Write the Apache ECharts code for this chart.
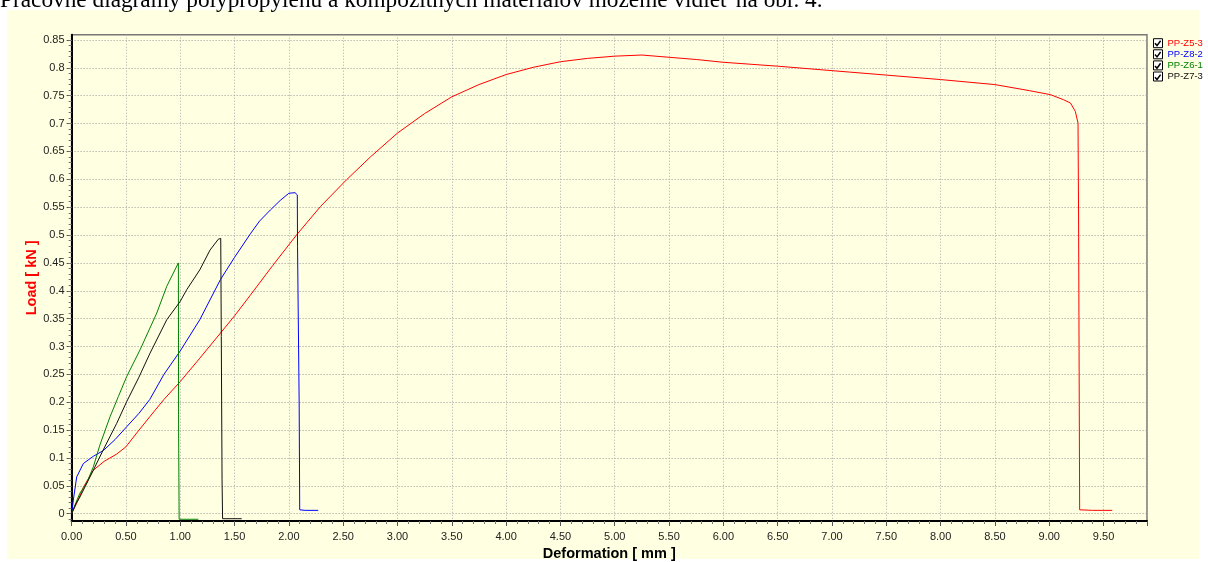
<!DOCTYPE html>
<html><head><meta charset="utf-8">
<script src="https://cdn.jsdelivr.net/npm/echarts@6/dist/echarts.min.js"></script>
<style>html,body{margin:0;padding:0;background:#fff}#c{width:1208px;height:562px}</style>
</head><body><div id="c"></div>
<script>
const seriesNames = ['PP-Z5-3', 'PP-Z8-2', 'PP-Z6-1', 'PP-Z7-3'];
const seriesColors = ['#ff0000', '#0000ff', '#008000', '#111111'];

// [deformation mm, load kN]
const z53 = [[0,0],[0.05,0.02],[0.11,0.048],[0.2,0.078],[0.3,0.094],[0.415,0.107],[0.5,0.12],[0.6,0.145],[0.72,0.174],[0.85,0.205],[1.0,0.237],[1.18,0.279],[1.37,0.324],[1.5,0.355],[1.645,0.392],[1.85,0.445],[2.07,0.5],[2.29,0.551],[2.53,0.599],[2.75,0.64],[3.0,0.683],[3.25,0.718],[3.5,0.748],[3.75,0.77],[4.0,0.788],[4.25,0.801],[4.5,0.811],[4.75,0.817],[5.0,0.821],[5.25,0.823],[5.5,0.819],[5.75,0.815],[6.0,0.81],[6.5,0.803],[7.0,0.795],[7.5,0.787],[8.0,0.779],[8.5,0.77],[8.82,0.759],[9.01,0.752],[9.13,0.743],[9.195,0.737],[9.24,0.722],[9.265,0.701],[9.27,0.536],[9.28,0.007],[9.4,0.006],[9.58,0.006]];
const z82 = [[0,0],[0.02,0.03],[0.047,0.066],[0.108,0.09],[0.2,0.103],[0.29,0.113],[0.4,0.133],[0.507,0.156],[0.62,0.18],[0.72,0.205],[0.85,0.25],[1.0,0.292],[1.18,0.348],[1.37,0.42],[1.5,0.46],[1.645,0.502],[1.73,0.525],[1.83,0.545],[1.92,0.562],[2.0,0.575],[2.057,0.576],[2.078,0.572],[2.08,0.479],[2.095,0.195],[2.1,0.007],[2.15,0.006],[2.27,0.006]];
const z61 = [[0,0],[0.04,0.02],[0.077,0.037],[0.139,0.055],[0.2,0.084],[0.26,0.123],[0.354,0.174],[0.43,0.21],[0.507,0.246],[0.63,0.294],[0.784,0.36],[0.876,0.408],[0.983,0.45],[0.985,0.15],[0.99,-0.01],[1.167,-0.01]];
const z73 = [[0,0],[0.04,0.018],[0.077,0.03],[0.2,0.078],[0.29,0.114],[0.415,0.162],[0.507,0.201],[0.62,0.245],[0.722,0.288],[0.876,0.348],[1.0,0.381],[1.06,0.402],[1.18,0.4375],[1.274,0.473],[1.351,0.4926],[1.373,0.494],[1.378,0.318],[1.385,0.062],[1.39,-0.009],[1.566,-0.009]];

const yTicks = [0,0.05,0.1,0.15,0.2,0.25,0.3,0.35,0.4,0.45,0.5,0.55,0.6,0.65,0.7,0.75,0.8,0.85];
const yMinorTicks = [];
for (let i = -1; i <= 85; i++) yMinorTicks.push(i / 100);
const xMin = 0, xMax = 9.9, xStep = 0.5;
const yMin = -0.0131, yMax = 0.8595;

const topText = 'Pracovné diagramy polypropylénu a kompozitných materiálov môžeme vidieť na obr. 4.';

const dataSets = [z53, z82, z61, z73];
const FONT = '"Liberation Sans", Arial, sans-serif';

const chart = echarts.init(document.getElementById('c'), null, {renderer: 'canvas'});

const LEG_TOP = 38.2, ROW_H = 11.3;
const checks = [];
for (let i = 0; i < 4; i++) {
  const cy = LEG_TOP + 5.1 + i * ROW_H;
  checks.push({
    type: 'polyline', z: 100,
    shape: {points: [[1155, cy], [1157, cy + 2.3], [1160.6, cy - 2.6]]},
    style: {stroke: '#000', lineWidth: 1.5, fill: null}
  });
}

chart.setOption({
  animation: false,
  backgroundColor: '#ffffff',
  graphic: [
    {type: 'rect', z: -100, shape: {x: 7, y: 10, width: 1192, height: 549}, style: {fill: '#ffffe1'}},
    {type: 'text', z: -50, x: 0, y: 0.5, style: {text: topText, font: '23.3px "Liberation Serif", "Times New Roman", serif', fill: '#000', verticalAlign: 'middle'}},
    ...checks
  ],
  grid: {left: 71.6, right: 61, top: 34.7, bottom: 41, outerBoundsMode: 'none', containLabel: false, show: true, borderColor: '#777', borderWidth: 1.5, backgroundColor: 'transparent'},
  legend: {
    orient: 'vertical', left: 1153, top: LEG_TOP, padding: 0, itemWidth: 9, itemHeight: 9, itemGap: 1.1,
    icon: 'rect', selectedMode: false,
    itemStyle: {color: '#ffffff', borderColor: '#000', borderWidth: 1},
    textStyle: {fontSize: 9.5, fontFamily: FONT},
    data: seriesNames.map((n, i) => ({name: n, textStyle: {color: seriesColors[i]}}))
  },
  xAxis: {
    type: 'value', min: xMin, max: xMax, interval: xStep,
    name: 'Deformation [ mm ]', nameLocation: 'middle', nameGap: 25, nameMoveOverlap: false,
    nameTextStyle: {color: '#000', fontWeight: 'bold', fontSize: 14.5, fontFamily: FONT},
    axisLine: {onZero: false, lineStyle: {color: '#000', width: 2}},
    axisTick: {length: 5, lineStyle: {color: '#555'}},
    minorTick: {show: true, splitNumber: 5, length: 3, lineStyle: {color: '#777'}},
    axisLabel: {color: '#222', fontSize: 11, fontFamily: FONT, margin: 10, showMaxLabel: false, formatter: v => v.toFixed(2)},
    splitLine: {show: true, lineStyle: {color: '#aaa', width: 1, type: [1, 2]}}
  },
  yAxis: [{
    type: 'value', min: yMin, max: yMax,
    name: 'Load [ kN ]', nameLocation: 'middle', nameGap: 32.5, nameMoveOverlap: false,
    nameTextStyle: {color: '#ff0000', fontWeight: 'bold', fontSize: 14.5, fontFamily: FONT},
    axisLine: {onZero: false, lineStyle: {color: '#000', width: 2}},
    axisTick: {length: 5, customValues: yTicks, lineStyle: {color: '#555'}},
    axisLabel: {color: '#222', fontSize: 11, fontFamily: FONT, margin: 7, customValues: yTicks},
    splitLine: {show: true, lineStyle: {color: '#999', width: 1, type: [1, 2]}}
  }, {
    type: 'value', min: yMin, max: yMax, position: 'left',
    axisLine: {show: false}, axisLabel: {show: false}, splitLine: {show: false},
    axisTick: {show: true, length: 3, customValues: yMinorTicks, lineStyle: {color: '#777'}}
  }],
  series: seriesNames.map((n, i) => ({
    name: n, type: 'line', data: dataSets[i], showSymbol: false, symbol: 'none',
    lineStyle: {color: seriesColors[i], width: 1}, itemStyle: {color: seriesColors[i]},
    z: 3 + i
  }))
});
</script></body></html>
